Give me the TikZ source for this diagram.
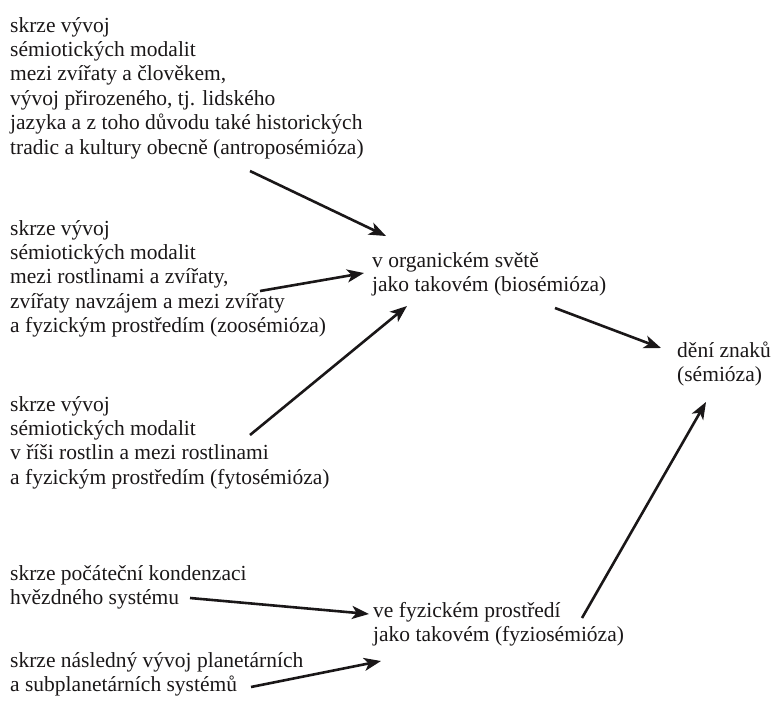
\documentclass[tikz,border=0pt]{standalone}
\usepackage{fontspec}
\setmainfont{Liberation Serif}
\usetikzlibrary{arrows.meta}
\definecolor{ink}{HTML}{1A1718}
\begin{document}
\begin{tikzpicture}[x=1pt,y=-1pt,
  txt/.style={anchor=north west, inner sep=0pt, align=left, text=ink,
    font=\fontsize{21.5}{24.4}\selectfont},
  arr/.style={draw=ink, line width=2.6pt,
    -{Stealth[length=17pt,width=13pt,inset=4.5pt]}}]
\useasboundingbox (0,0) rectangle (773,701);
% text blocks (top = first baseline - 17.08)
\node[txt] (A) at (10,14.9) {\strut skrze vývoj\\sémiotických modalit\\mezi zvířaty a člověkem,\\vývoj přirozeného, tj. lidského\\jazyka a z toho důvodu také historických\\tradic a kultury obecně (antroposémióza)};
\node[txt] (B) at (10,217.9) {\strut skrze vývoj\\sémiotických modalit\\mezi rostlinami a zvířaty,\\zvířaty navzájem a mezi zvířaty\\a fyzickým prostředím (zoosémióza)};
\node[txt] (C) at (10,393.9) {\strut skrze vývoj\\sémiotických modalit\\v říši rostlin a mezi rostlinami\\a fyzickým prostředím (fytosémióza)};
\node[txt] (D) at (10,562.9) {\strut skrze počáteční kondenzaci\\hvězdného systému};
\node[txt] (E) at (10,649.9) {\strut skrze následný vývoj planetárních\\a subplanetárních systémů};
\node[txt] (M1) at (372,249.9) {\strut v organickém světě\\jako takovém (biosémióza)};
\node[txt] (M2) at (373,599.9) {\strut ve fyzickém prostředí\\jako takovém (fyziosémióza)};
\node[txt] (R) at (677,339.9) {\strut dění znaků\\(sémióza)};
% connector end points
\coordinate (a1) at (250,171); \coordinate (a2) at (386,236);
\coordinate (b1) at (260,291); \coordinate (b2) at (364,273);
\coordinate (c1) at (250,435); \coordinate (c2) at (407,306);
\coordinate (m1) at (555,308); \coordinate (r1) at (661,348);
\coordinate (d1) at (190,598); \coordinate (d2) at (369,614);
\coordinate (e1) at (251,687); \coordinate (e2) at (381,661);
\coordinate (m2) at (582,618); \coordinate (r2) at (706,402);
\draw[arr] (a1) -- (a2);
\draw[arr] (b1) -- (b2);
\draw[arr] (c1) -- (c2);
\draw[arr] (m1) -- (r1);
\draw[arr] (d1) -- (d2);
\draw[arr] (e1) -- (e2);
\draw[arr] (m2) -- (r2);
\end{tikzpicture}
\end{document}
